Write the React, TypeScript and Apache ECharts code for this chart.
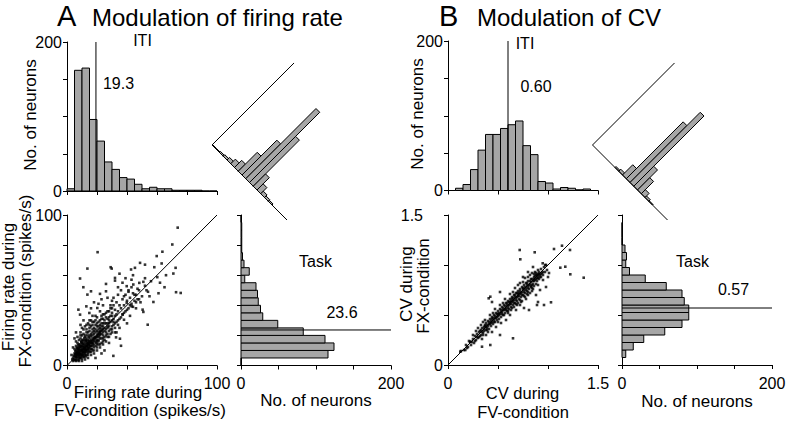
import React, { useEffect, useRef } from 'react';
import * as echarts from 'echarts';

// ---------- Panel A: firing rate ----------
const rateBinEdgesA = [0, 5, 10, 15, 20, 25, 30, 35, 40, 45, 50, 55, 60, 65, 70, 75, 80, 85, 90, 95, 100];
const itiCountsA = [3, 162, 165, 96, 67, 39, 29, 18, 16, 9, 3, 5, 3, 3, 1, 1, 1, 1, 0, 0];
const taskCountsA = [0, 116, 124, 112, 83, 49, 29, 26, 23, 22, 20, 5, 11, 4, 2, 1, 1, 1, 1, 0];
const diffBinEdgesA = [-50, -45, -40, -35, -30, -25, -20, -15, -10, -5, 0, 5, 10, 15, 20, 25, 30, 35, 40, 45, 50];
const diffCountsA = [1, 1, 2, 3, 5, 9, 14, 37, 68, 137, 90, 24, 12, 5, 3, 2, 0, 0, 0, 0];
const meanItiA = 19.3;
const meanTaskA = 23.6;

// [FV-condition, FX-condition] firing rates (spikes/s)
const neuronsA: [number, number][] = [
  [73.8, 91.6], [70.2, 80.4], [59.8, 72.7], [63.6, 75.6], [20.4, 75.3], [13.6, 64.4], [29.1, 65.3], [29.8, 64.4],
  [48.7, 68.2], [52, 67], [58.2, 65.3], [63.1, 67.8], [45.3, 64.9], [42.7, 63.8], [66, 60], [70.9, 61.1],
  [72.4, 64.9], [72.7, 48.7], [75.8, 48.2], [60.2, 58.7], [8.7, 57.8], [32, 58.2], [32, 56.4], [26, 54.2],
  [26, 49.3], [10.9, 52], [13.6, 47.1], [16, 49.3], [22, 47.6], [39.8, 52.7], [44.2, 53.8], [48.2, 54.9],
  [50.9, 55.6], [57.6, 42.2], [53.8, 27.1], [50.4, 37.1], [50.9, 35.6], [39.8, 41.6], [43.1, 39.3], [37.1, 33.8],
  [38, 30.4], [36, 13.1], [30.9, 6.4], [32.7, 18.7], [35.3, 17.8], [7.6, 37.1], [8.7, 33.8], [12.9, 39.3],
  [14.9, 34.9], [20.2, 38.2], [27, 45], [30, 43], [34, 47], [36, 50], [38, 46], [41, 49], [45, 47], [47, 51],
  [53, 50], [55, 46], [49, 42], [46, 38], [42, 33], [40, 28], [35, 25], [33, 22], [28, 15], [25, 10], [23, 8],
  [19, 5], [17, 29], [19, 33], [22, 36], [24, 40], [11, 30], [9, 27], [6, 22], [5, 18], [4, 12], [3, 7],
  [44, 60], [37, 55], [34, 52], [29, 40], [31, 45], [18, 42], [16, 38], [23, 44], [21, 41], [52, 58], [56, 56],
  [62, 55], [65, 52], [61, 48], [43, 57], [39, 58], [35, 61],
  [4, 5], [5, 8], [6, 4], [6, 10], [7, 7], [7, 12], [8, 6], [8, 9], [8, 14], [9, 11], [9, 5], [10, 8], [10, 13],
  [10, 17], [11, 10], [11, 6], [12, 12], [12, 15], [12, 9], [13, 11], [13, 18], [13, 7], [14, 14], [14, 10],
  [15, 16], [15, 12], [15, 20], [16, 13], [16, 9], [17, 18], [17, 15], [18, 12], [18, 21], [19, 16], [19, 24],
  [20, 19], [20, 14], [21, 22], [21, 17], [22, 25], [22, 20], [23, 15], [23, 28], [24, 22], [24, 26], [25, 19],
  [25, 30], [26, 24], [27, 28], [27, 21], [28, 32], [28, 26], [29, 24], [30, 30], [30, 35], [31, 27], [32, 33],
  [33, 29], [34, 36], [35, 31], [36, 38], [37, 34], [38, 40], [39, 36], [40, 43], [41, 38], [42, 45], [43, 41],
  [44, 48], [45, 43], [46, 47], [47, 44], [48, 50], [50, 46], [52, 53], [54, 49],
  [5, 6], [5, 11], [6, 7], [6, 13], [7, 5], [7, 9], [7, 15], [8, 11], [8, 4], [9, 8], [9, 13], [9, 18], [10, 6],
  [10, 11], [10, 20], [11, 13], [11, 8], [11, 16], [12, 7], [12, 11], [12, 19], [13, 14], [13, 9], [13, 22],
  [14, 12], [14, 17], [14, 7], [15, 10], [15, 14], [15, 23], [16, 17], [16, 11], [16, 26], [17, 13], [17, 20],
  [17, 10], [18, 16], [18, 25], [19, 13], [19, 19], [20, 23], [20, 17], [20, 28], [21, 14], [21, 19], [22, 18],
  [22, 23], [23, 21], [23, 26], [24, 18], [24, 31], [25, 23], [26, 20], [26, 28], [27, 25], [28, 23], [29, 29],
  [30, 26], [31, 31], [32, 28], [33, 34], [34, 30], [6, 16], [7, 19], [8, 17], [9, 22], [10, 25], [11, 21],
  [12, 26], [13, 24], [14, 28], [15, 27], [16, 30], [17, 24], [18, 29], [19, 27], [20, 32], [21, 26], [22, 30],
  [23, 33], [24, 28], [25, 34], [26, 32], [27, 36], [28, 30], [29, 38], [30, 33], [31, 40], [32, 37], [33, 42],
  [35, 40], [37, 44], [39, 47], [41, 50], [43, 52], [36, 32], [38, 35], [40, 37], [42, 40], [44, 39], [46, 42],
  [48, 44], [30, 22], [32, 25], [34, 27], [28, 19], [26, 16], [24, 14], [22, 12], [20, 10], [18, 8], [16, 7],
  [14, 5], [12, 4], [10, 3], [8, 3], [6, 3], [4, 3],
  [5.5, 9.5], [6.5, 11.5], [7.5, 8.5], [8.5, 12.5], [9.5, 10], [10.5, 14.5], [11.5, 12], [12.5, 16.5], [13.5, 13],
  [14.5, 19], [9.5, 15.5], [7.5, 13.5], [11.5, 18], [6.5, 8], [8.5, 7.5], [10.5, 9], [12.5, 10.5], [14.5, 11.5],
  [16.5, 15], [18.5, 18], [20.5, 21], [9, 20], [11, 24], [13, 27], [15, 30], [17, 33],
  [3.5, 4], [4.5, 6.5], [5, 3.5], [5.5, 7.5], [6, 5.5], [6.5, 9], [7, 3.5], [7, 6], [7.5, 10.5], [8, 8], [8, 12],
  [8.5, 5], [9, 7], [9, 9.5], [9.5, 12.5], [9.5, 16], [10, 4.5], [10, 10], [10.5, 7], [10.5, 12], [11, 9], [11, 14],
  [11.5, 5.5], [11.5, 11], [12, 8], [12, 13.5], [12.5, 6], [12.5, 17], [13, 10], [13, 12.5], [13.5, 15], [13.5, 20],
  [14, 8.5], [14, 11], [14.5, 13.5], [14.5, 16], [15, 9], [15, 18], [15.5, 13], [16, 15], [16, 19.5], [16.5, 11],
  [17, 14], [17, 22], [17.5, 17], [18, 10], [18, 14], [18.5, 19], [19, 22], [19.5, 15], [20, 12], [20, 20], [21, 16],
  [21, 24], [22, 14], [22, 21], [23, 18], [23, 24], [24, 16], [24, 20], [25, 25], [25, 17], [26, 22], [27, 19],
  [27, 26], [28, 28], [29, 21], [30, 24], [31, 29], [32, 22], [6, 8], [7, 11], [8, 10], [9, 14], [10, 15], [11, 17],
  [12, 20], [13, 16], [14, 22], [15, 25], [16, 21], [17, 27], [18, 23], [19, 30], [20, 26], [21, 29], [22, 27],
  [23, 31], [24, 34], [25, 28], [26, 35], [27, 31], [28, 36], [29, 33], [30, 38], [5, 4], [6, 6], [7, 8], [8, 7],
  [9, 6], [10, 7], [11, 11], [12, 10], [13, 13], [14, 15], [15, 15], [16, 16], [17, 16], [18, 18], [19, 18], [20, 16],
  [21, 20], [22, 22], [23, 23], [24, 24]
];

// ---------- Panel B: CV ----------
const cvBinEdgesB = [0.075, 0.15, 0.225, 0.3, 0.375, 0.45, 0.525, 0.6, 0.675, 0.75, 0.825, 0.9, 0.975, 1.05, 1.125, 1.2, 1.275, 1.35, 1.425];
const itiCountsB = [3, 8, 28, 54, 75, 75, 83, 88, 93, 60, 48, 12, 10, 2, 4, 3, 1, 2];
const taskCountsB = [5, 15, 29, 57, 80, 89, 89, 83, 80, 59, 31, 10, 5, 6, 4, 0, 0, 0];
const diffBinEdgesB = [-0.75, -0.675, -0.6, -0.525, -0.45, -0.375, -0.3, -0.225, -0.15, -0.075, 0, 0.075, 0.15, 0.225, 0.3, 0.375, 0.45, 0.525, 0.6, 0.675, 0.75];
const diffCountsB = [0, 0, 0, 0, 0, 0, 2, 4, 20, 111, 137, 39, 24, 8, 3, 1, 0, 0, 0, 0];
const meanItiB = 0.60;
const meanTaskB = 0.57;

// [FV-condition, FX-condition] CV
const neuronsB: [number, number][] = [
  [1.14, 1.193], [1.22, 1.15], [1.06, 1.16], [0.867, 1.127], [0.717, 1.15], [0.723, 1.057], [1.123, 0.973],
  [1.173, 0.983], [1.223, 0.907], [1.357, 0.873], [0.947, 1.017], [0.973, 1.0], [1.03, 0.627], [0.96, 0.6],
  [0.9, 0.63], [0.65, 0.267], [0.423, 0.2], [0.34, 0.183], [0.173, 0.15], [0.123, 0.133], [0.223, 0.233],
  [0.407, 0.667], [0.423, 0.683], [0.81, 0.55], [0.89, 0.6], [0.76, 0.57], [0.52, 0.3], [0.44, 0.63], [0.52, 0.73],
  [0.13, 0.14], [0.16, 0.15], [0.18, 0.2], [0.2, 0.18], [0.22, 0.23], [0.23, 0.2], [0.25, 0.26], [0.26, 0.22],
  [0.27, 0.29], [0.28, 0.25], [0.29, 0.31], [0.3, 0.27], [0.31, 0.33], [0.32, 0.29], [0.33, 0.35], [0.33, 0.3],
  [0.34, 0.37], [0.35, 0.32], [0.36, 0.38], [0.36, 0.34], [0.37, 0.4], [0.38, 0.35], [0.38, 0.42], [0.39, 0.37],
  [0.4, 0.39], [0.4, 0.44], [0.41, 0.36], [0.42, 0.41], [0.42, 0.46], [0.43, 0.39], [0.44, 0.43], [0.44, 0.48],
  [0.45, 0.41], [0.46, 0.45], [0.46, 0.5], [0.47, 0.43], [0.48, 0.47], [0.48, 0.52], [0.49, 0.45], [0.5, 0.49],
  [0.5, 0.54], [0.51, 0.46], [0.52, 0.51], [0.52, 0.56], [0.53, 0.48], [0.54, 0.53], [0.54, 0.58], [0.55, 0.5],
  [0.56, 0.55], [0.56, 0.6], [0.57, 0.52], [0.58, 0.57], [0.58, 0.62], [0.59, 0.54], [0.6, 0.59], [0.6, 0.64],
  [0.61, 0.56], [0.62, 0.61], [0.62, 0.66], [0.63, 0.58], [0.64, 0.63], [0.64, 0.68], [0.65, 0.6], [0.66, 0.65],
  [0.66, 0.7], [0.67, 0.62], [0.68, 0.67], [0.68, 0.72], [0.69, 0.64], [0.7, 0.69], [0.7, 0.74], [0.71, 0.66],
  [0.72, 0.71], [0.72, 0.76], [0.73, 0.68], [0.74, 0.73], [0.74, 0.78], [0.75, 0.7], [0.76, 0.75], [0.76, 0.8],
  [0.77, 0.72], [0.78, 0.77], [0.78, 0.82], [0.79, 0.74], [0.8, 0.79], [0.8, 0.84], [0.81, 0.76], [0.82, 0.81],
  [0.83, 0.86], [0.84, 0.8], [0.85, 0.84], [0.86, 0.88], [0.87, 0.85], [0.88, 0.9], [0.89, 0.87], [0.9, 0.89],
  [0.92, 0.9], [0.94, 0.92], [0.3, 0.37], [0.35, 0.43], [0.4, 0.33], [0.45, 0.52], [0.5, 0.43], [0.55, 0.62],
  [0.6, 0.52], [0.65, 0.73], [0.7, 0.62], [0.75, 0.83], [0.8, 0.7], [0.85, 0.76], [0.9, 0.8], [0.95, 0.85],
  [0.98, 0.78], [1.0, 0.88], [0.62, 0.5], [0.68, 0.55], [0.72, 0.6], [0.78, 0.66], [0.82, 0.72], [0.88, 0.7],
  [0.92, 0.75], [0.58, 0.45], [0.53, 0.42], [0.48, 0.38], [0.44, 0.33], [0.38, 0.3], [0.34, 0.26], [0.42, 0.5],
  [0.47, 0.56], [0.52, 0.6], [0.57, 0.66], [0.62, 0.71], [0.67, 0.77], [0.72, 0.82], [0.77, 0.87], [0.82, 0.9],
  [0.87, 0.93], [0.9, 0.95], [0.84, 0.92], [0.8, 0.88], [0.37, 0.45], [0.33, 0.4], [0.28, 0.34], [0.25, 0.3],
  [0.24, 0.23], [0.21, 0.24], [0.19, 0.17], [0.27, 0.24], [0.31, 0.28], [0.35, 0.3], [0.39, 0.4], [0.43, 0.44],
  [0.47, 0.47], [0.51, 0.52], [0.55, 0.55], [0.59, 0.6], [0.63, 0.64], [0.67, 0.68], [0.71, 0.72], [0.75, 0.76],
  [0.79, 0.8], [0.83, 0.83], [0.86, 0.86], [0.9, 0.91], [0.93, 0.96], [0.96, 0.98], [0.98, 1.0], [0.85, 0.98],
  [0.8, 0.93], [0.75, 0.88], [0.7, 0.8], [0.63, 0.55], [0.66, 0.58], [0.69, 0.6], [0.74, 0.64], [0.77, 0.68],
  [0.84, 0.74], [0.86, 0.79], [0.91, 0.86], [0.93, 0.88], [0.95, 0.9], [0.97, 0.93], [0.99, 0.95], [1.01, 0.92],
  [0.88, 0.92], [0.91, 0.93], [0.86, 0.91], [0.89, 0.84], [0.83, 0.78], [0.79, 0.71], [0.73, 0.63], [0.69, 0.72],
  [0.65, 0.67], [0.61, 0.63], [0.57, 0.59], [0.53, 0.55], [0.49, 0.51], [0.45, 0.47], [0.41, 0.43], [0.37, 0.39],
  [0.29, 0.28], [0.32, 0.34], [0.34, 0.33], [0.36, 0.36], [0.38, 0.38], [0.39, 0.35], [0.41, 0.41], [0.43, 0.42],
  [0.44, 0.46], [0.46, 0.43], [0.47, 0.49], [0.49, 0.48], [0.5, 0.51], [0.51, 0.5], [0.53, 0.53], [0.54, 0.51],
  [0.55, 0.57], [0.57, 0.56], [0.58, 0.55], [0.59, 0.62], [0.6, 0.57], [0.61, 0.6], [0.62, 0.63], [0.63, 0.61],
  [0.64, 0.66], [0.65, 0.64], [0.66, 0.62], [0.67, 0.7], [0.68, 0.65], [0.69, 0.68], [0.7, 0.71], [0.71, 0.69],
  [0.72, 0.74], [0.73, 0.72], [0.74, 0.7], [0.75, 0.77], [0.76, 0.73], [0.77, 0.78], [0.78, 0.75], [0.79, 0.82],
  [0.8, 0.77], [0.81, 0.8], [0.82, 0.84], [0.83, 0.79], [0.84, 0.86], [0.85, 0.81], [0.86, 0.84], [0.87, 0.89],
  [0.88, 0.86], [0.89, 0.9], [0.9, 0.87], [0.91, 0.91], [0.93, 0.91], [0.92, 0.88], [0.95, 0.93], [0.56, 0.5],
  [0.6, 0.54], [0.64, 0.57], [0.68, 0.61], [0.72, 0.65], [0.76, 0.69], [0.8, 0.73], [0.84, 0.77], [0.88, 0.81]
];

const FONT = '"Liberation Sans", Arial, sans-serif';
const BAR_FILL = '#a6a6a6';

function histData(edges: number[], counts: number[]) {
  return counts.map((c, i) => [edges[i], edges[i + 1], c]);
}

const rot45 = (p: number[], o: number[]) => {
  const dx = p[0] - o[0];
  const dy = p[1] - o[1];
  const c = Math.SQRT1_2;
  return [o[0] + dx * c - dy * c, o[1] + dx * c + dy * c];
};

function buildOption() {
  const line = { show: true, lineStyle: { color: '#000', width: 1 } };
  const tick = { show: true, length: 4, lineStyle: { color: '#000', width: 1 } };
  const lbl = (vals: number[], fmt?: (v: number) => string, margin = 6) => ({
    show: true,
    color: '#000',
    fontSize: 16,
    fontFamily: FONT,
    margin,
    formatter: (v: number) => (vals.some((x) => Math.abs(x - v) < 1e-9) ? (fmt ? fmt(v) : String(v)) : ''),
  });
  const noLbl = { show: false };
  const base = { type: 'value', splitLine: { show: false }, axisLine: line, axisTick: tick };

  const diagLen = 106.07; // bin-axis length (px) of the rotated histograms
  const diagH = 150; // count-axis length (px) for 0..200
  const OA = [212, 145];
  const OB = [592.5, 145];

  const grid = [
    { left: 67, top: 42, width: 150, height: 149 }, // 0 A top hist
    { left: 67, top: 215, width: 150, height: 150.5 }, // 1 A scatter
    { left: 241, top: 215, width: 150, height: 150.5 }, // 2 A right hist
    { left: OA[0], top: OA[1] - diagH, width: diagLen, height: diagH }, // 3 A diag
    { left: 448, top: 41, width: 150, height: 149.5 }, // 4 B top hist
    { left: 448, top: 215, width: 150, height: 150 }, // 5 B scatter
    { left: 622, top: 215, width: 150, height: 150 }, // 6 B right hist
    { left: OB[0], top: OB[1] - diagH, width: diagLen, height: diagH }, // 7 B diag
  ];

  const xAxis: any[] = [
    { ...base, gridIndex: 0, min: 0, max: 100, interval: 20, axisLabel: noLbl },
    { ...base, gridIndex: 1, min: 0, max: 100, interval: 20, axisLabel: lbl([0, 100], undefined, 10) },
    { ...base, gridIndex: 2, min: 0, max: 200, interval: 50, axisLabel: lbl([0, 200], undefined, 10) },
    { type: 'value', gridIndex: 3, min: -50, max: 50, show: false },
    { ...base, gridIndex: 4, min: 0, max: 1.5, interval: 0.5, axisLabel: noLbl },
    { ...base, gridIndex: 5, min: 0, max: 1.5, interval: 0.5, axisLabel: lbl([0, 1.5], undefined, 10) },
    { ...base, gridIndex: 6, min: 0, max: 200, interval: 50, axisLabel: lbl([0, 200], undefined, 10) },
    { type: 'value', gridIndex: 7, min: -0.75, max: 0.75, show: false },
  ];
  const yAxis: any[] = [
    { ...base, gridIndex: 0, min: 0, max: 200, interval: 50, axisLabel: lbl([0, 200], undefined, 5) },
    { ...base, gridIndex: 1, min: 0, max: 100, interval: 20, axisLabel: lbl([0, 100], undefined, 5) },
    { ...base, gridIndex: 2, min: 0, max: 100, interval: 20, axisLabel: noLbl },
    { type: 'value', gridIndex: 3, min: 0, max: 200, show: false },
    { ...base, gridIndex: 4, min: 0, max: 200, interval: 50, axisLabel: lbl([0, 200], undefined, 5) },
    {
      ...base, gridIndex: 5, min: 0, max: 1.5, interval: 0.5,
      axisLabel: {
        ...lbl([0, 1.5], (v) => (v === 0 ? '0' : '{p|1.5}'), 5),
        rich: { p: { fontSize: 16, fontFamily: FONT, color: '#000', padding: [0, 20, 0, 0] } },
      },
    },
    { ...base, gridIndex: 6, min: 0, max: 1.5, interval: 0.5, axisLabel: noLbl },
    { type: 'value', gridIndex: 7, min: 0, max: 200, show: false },
  ];

  const barStyle = { fill: BAR_FILL, stroke: '#000', lineWidth: 1 };

  const vHist = (xi: number, data: number[][]) => ({
    type: 'custom', xAxisIndex: xi, yAxisIndex: xi, clip: false,
    encode: { x: [0, 1], y: 2 },
    data,
    renderItem: (params: any, api: any) => {
      const p0 = api.coord([api.value(0), api.value(2)]);
      const p1 = api.coord([api.value(1), 0]);
      return { type: 'rect', shape: { x: p0[0], y: p0[1], width: p1[0] - p0[0], height: p1[1] - p0[1] }, style: barStyle };
    },
  });
  const hHist = (xi: number, data: number[][]) => ({
    type: 'custom', xAxisIndex: xi, yAxisIndex: xi, clip: false,
    encode: { y: [0, 1], x: 2 },
    data,
    renderItem: (params: any, api: any) => {
      const p0 = api.coord([0, api.value(1)]);
      const p1 = api.coord([api.value(2), api.value(0)]);
      return { type: 'rect', shape: { x: p0[0], y: p0[1], width: p1[0] - p0[0], height: p1[1] - p0[1] }, style: barStyle };
    },
  });
  const dHist = (xi: number, data: number[][], dMin: number) => ({
    type: 'custom', xAxisIndex: xi, yAxisIndex: xi, clip: false,
    encode: { x: [0, 1], y: 2 },
    data,
    renderItem: (params: any, api: any) => {
      const o = api.coord([dMin, 0]);
      const d0 = api.value(0);
      const d1 = api.value(1);
      const c = api.value(2);
      if (!c) return null;
      const pts = [api.coord([d0, 0]), api.coord([d1, 0]), api.coord([d1, c]), api.coord([d0, c])].map((p: number[]) => rot45(p, o));
      return { type: 'polygon', shape: { points: pts }, style: barStyle };
    },
  });
  const dAxes = (xi: number, dMin: number, dMax: number, cTop: number) => ({
    type: 'custom', xAxisIndex: xi, yAxisIndex: xi, clip: false, silent: true,
    data: [[dMin, 0]],
    renderItem: (params: any, api: any) => {
      const o = api.coord([dMin, 0]);
      const pts = [api.coord([dMin, cTop]), o, api.coord([dMax, 0])].map((p: number[]) => rot45(p, o));
      return { type: 'polyline', shape: { points: pts }, style: { stroke: '#000', lineWidth: 1, fill: 'none' } };
    },
  });
  const seg = (xi: number, a: number[], b: number[]) => ({
    type: 'line', xAxisIndex: xi, yAxisIndex: xi, data: [a, b], symbol: 'none', silent: true,
    lineStyle: { color: '#000', width: 1 },
  });
  const scatter = (xi: number, data: number[][]) => ({
    type: 'scatter', xAxisIndex: xi, yAxisIndex: xi, data, symbol: 'rect', symbolSize: 2.6,
    itemStyle: { color: '#000' }, silent: true,
  });

  const series: any[] = [
    vHist(0, histData(rateBinEdgesA, itiCountsA)),
    seg(0, [meanItiA, 0], [meanItiA, 200]),
    seg(1, [0, 0], [100, 100]),
    scatter(1, neuronsA),
    hHist(2, histData(rateBinEdgesA, taskCountsA)),
    seg(2, [0, meanTaskA], [200, meanTaskA]),
    dHist(3, histData(diffBinEdgesA, diffCountsA), -50),
    dAxes(3, -50, 50, 160),
    vHist(4, histData(cvBinEdgesB, itiCountsB)),
    seg(4, [meanItiB, 0], [meanItiB, 200]),
    seg(5, [0, 0], [1.5, 1.5]),
    scatter(5, neuronsB),
    hHist(6, histData(cvBinEdgesB, taskCountsB)),
    seg(6, [0, meanTaskB], [200, meanTaskB]),
    dHist(7, histData(diffBinEdgesB, diffCountsB), -0.75),
    dAxes(7, -0.75, 0.75, 160),
  ];

  const txt = (text: string, x: number, y: number, size = 17, rotation = 0, align = 'center') => ({
    type: 'text', x, y, rotation, silent: true,
    style: {
      text, fill: '#000', font: `${size}px ${FONT}`, lineHeight: size - 1,
      align, textAlign: align, verticalAlign: 'middle', textVerticalAlign: 'middle',
    },
  });
  const R = Math.PI / 2;
  const graphic = [
    txt('A', 57, 15.5, 29, 0, 'left'),
    txt('Modulation of firing rate', 92, 17.5, 24, 0, 'left'),
    txt('B', 439, 15.5, 29, 0, 'left'),
    txt('Modulation of CV', 477, 17.5, 24, 0, 'left'),
    txt('ITI', 142.5, 40, 16),
    txt(meanItiA.toFixed(1), 118.5, 83, 16),
    txt('Task', 315.5, 261, 16),
    txt(meanTaskA.toFixed(1), 342, 312, 16),
    txt('ITI', 525, 43, 16),
    txt(meanItiB.toFixed(2), 536, 86, 16),
    txt('Task', 692.5, 261, 16),
    txt(meanTaskB.toFixed(2), 733.5, 289, 16),
    txt('No. of neurons', 30, 115, 17, R),
    txt('Firing rate during', 8.5, 287, 17, R),
    txt('FX-condition (spikes/s)', 25, 281, 17, R),
    txt('Firing rate during', 138, 392, 17),
    txt('FV-condition (spikes/s)', 140, 410, 17),
    txt('No. of neurons', 316, 400, 17),
    txt('No. of neurons', 417, 114, 17, R),
    txt('CV during', 406.5, 284, 17, R),
    txt('FX-condition', 423.5, 286, 17, R),
    txt('CV during', 522.5, 393, 16.5),
    txt('FV-condition', 523, 411.5, 16.5),
    txt('No. of neurons', 697, 401.5, 17),
  ];

  return {
    animation: false,
    backgroundColor: '#fff',
    grid,
    xAxis,
    yAxis,
    series,
    graphic,
  };
}

export default function App() {
  const ref = useRef<HTMLDivElement>(null);
  useEffect(() => {
    if (!ref.current) return;
    const chart = echarts.init(ref.current, undefined, { renderer: 'svg' });
    chart.setOption(buildOption() as any);
    return () => chart.dispose();
  }, []);
  return <div ref={ref} style={{ position: 'fixed', left: 0, top: 0, width: 789, height: 421, background: '#fff' }} />;
}
